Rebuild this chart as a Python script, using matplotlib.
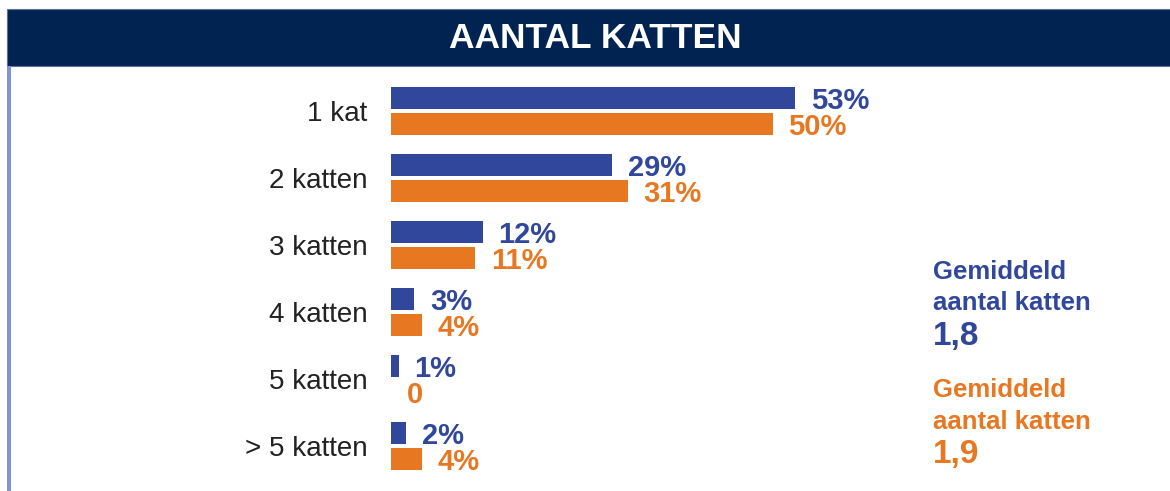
import matplotlib.pyplot as plt
from matplotlib.patches import Rectangle
import numpy as np

plt.rcParams['font.family'] = ['Liberation Sans', 'DejaVu Sans']

# data
categories = ['1 kat', '2 katten', '3 katten', '4 katten', '5 katten', '> 5 katten']
blue_vals = [53, 29, 12, 3, 1, 2]
orange_vals = [50, 31, 11, 4, 0, 4]
blue_labels = ['53%', '29%', '12%', '3%', '1%', '2%']
orange_labels = ['50%', '31%', '11%', '4%', '0', '4%']
avg_blue = '1,8'
avg_orange = '1,9'

BLUE = '#30479c'
ORANGE = '#e87722'
NAVY = '#002352'

W, H = 1170, 491
fig = plt.figure(figsize=(W / 100, H / 100), dpi=100)

# header band + left border
fig.patches.append(Rectangle((7 / W, 1 - 66 / H), 1, 57 / H, transform=fig.transFigure,
                             facecolor=NAVY, edgecolor='#5a7396', linewidth=0.8))
fig.patches.append(Rectangle((7 / W, 0), 4 / W, 1 - 66 / H, transform=fig.transFigure,
                             facecolor='#8493d9', edgecolor='none'))
fig.text(595 / W, 1 - 39 / H, 'AANTAL KATTEN', color='white', fontsize=25.5,
         fontweight='bold', ha='center', va='center')

ax = fig.add_axes([391 / W, 0, (W - 391) / W, 1 - 66 / H])
y = np.arange(len(categories))
h = 0.33
off = 0.194
ax.barh(y - off, blue_vals, height=h, color=BLUE)
ax.barh(y + off, orange_vals, height=h, color=ORANGE)
for i in range(len(categories)):
    ax.annotate(blue_labels[i], (blue_vals[i], y[i] - off), xytext=(11.5, -2.5),
                textcoords='offset points', ha='left', va='center',
                color=BLUE, fontsize=21, fontweight='bold')
    ax.annotate(orange_labels[i], (orange_vals[i], y[i] + off), xytext=(11.5, -2.5),
                textcoords='offset points', ha='left', va='center',
                color=ORANGE, fontsize=21, fontweight='bold')

ax.set_xlim(0, (W - 391) / 7.63)
ax.set_ylim(5.672, -0.672)
ax.set_yticks(y)
ax.set_yticklabels(categories, fontsize=20, color='#222222')
ax.tick_params(axis='y', length=0, pad=17)
ax.set_xticks([])
for s in ax.spines.values():
    s.set_visible(False)

# averages on the right
fig.text(933 / W, 1 - 272 / H, 'Gemiddeld', color=BLUE, fontsize=18.5,
         fontweight='bold', va='center')
fig.text(933 / W, 1 - 303 / H, 'aantal katten', color=BLUE, fontsize=18.5,
         fontweight='bold', va='center')
fig.text(933 / W, 1 - 336 / H, avg_blue, color=BLUE, fontsize=24,
         fontweight='bold', va='center')
fig.text(933 / W, 1 - 390 / H, 'Gemiddeld', color=ORANGE, fontsize=18.5,
         fontweight='bold', va='center')
fig.text(933 / W, 1 - 422 / H, 'aantal katten', color=ORANGE, fontsize=18.5,
         fontweight='bold', va='center')
fig.text(933 / W, 1 - 454 / H, avg_orange, color=ORANGE, fontsize=24,
         fontweight='bold', va='center')

fig.savefig('out.png', dpi=100)
